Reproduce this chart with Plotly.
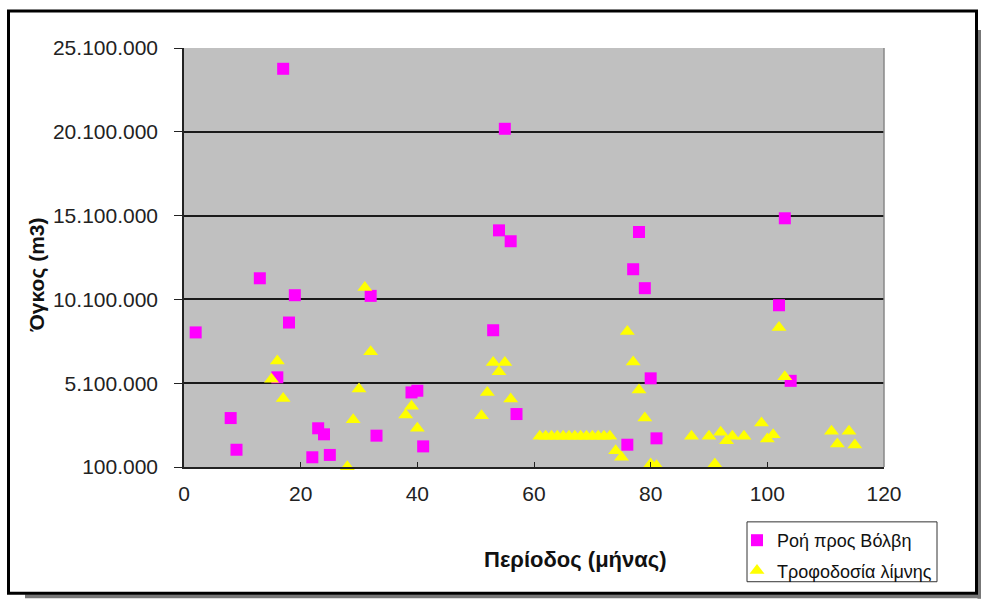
import plotly.graph_objects as go

# Ροή προς Βόλβη (magenta squares)
flow_month = [2, 8, 9, 13, 16, 17, 18, 19, 22, 23, 24, 25, 32, 33, 39, 40, 41,
              53, 54, 55, 56, 57, 76, 77, 78, 79, 80, 81, 102, 103, 104]
flow_volume = [8130000, 3020000, 1130000, 11360000, 5450000, 23860000, 8720000,
               10350000, 680000, 2410000, 2050000, 820000, 10310000, 1970000,
               4550000, 4650000, 1330000, 8260000, 14220000, 20280000, 13570000,
               3260000, 1430000, 11900000, 14120000, 10770000, 5390000, 1810000,
               9750000, 14940000, 5240000]

# Τροφοδοσία λίμνης (yellow triangles)
feed_month = [15, 16, 17, 28, 29, 30, 31, 32, 38, 39, 40, 51, 52, 53, 54, 55, 56,
              61, 62, 63, 64, 65, 66, 67, 68, 69, 70, 71, 72, 73, 74, 75,
              76, 77, 78, 79, 80, 81, 87, 90, 91, 92, 93, 94, 96, 99, 100, 101,
              102, 103, 111, 112, 114, 115]
feed_volume = [5340000, 6430000, 4190000, 120000, 2920000, 4750000, 10810000,
               6970000, 3200000, 3720000, 2410000, 3160000, 4550000, 6340000,
               5780000, 6340000, 4150000,
               1930000, 1930000, 1930000, 1930000, 1930000, 1930000, 1930000,
               1930000, 1930000, 1930000, 1930000, 1930000, 1930000, 1070000,
               680000, 8190000, 6370000, 4690000, 3020000, 280000, 180000,
               1930000, 1930000, 280000, 2170000, 1670000, 1930000, 1930000,
               2720000, 1770000, 2020000, 8430000, 5480000, 2230000, 1470000,
               2230000, 1410000]

series_names = ["Ροή προς Βόλβη", "Τροφοδοσία λίμνης"]
x_title = "Περίοδος (μήνας)"
y_title = "Όγκος (m3)"

FONT = "Arial, Liberation Sans, sans-serif"

fig = go.Figure()
fig.add_trace(go.Scatter(
    x=flow_month, y=flow_volume, mode="markers", name=series_names[0],
    legendgroup="a",
    marker=dict(symbol="square", size=12, color="#FF00FF", line=dict(width=0)),
    cliponaxis=False,
))
fig.add_trace(go.Scatter(
    x=feed_month, y=feed_volume, mode="markers", name=series_names[1],
    legendgroup="b",
    marker=dict(symbol="triangle-up", size=13, color="#FFFF00", line=dict(width=0)),
    cliponaxis=False,
))

L, R, T, B = 184, 884, 48, 468
W, H = 981, 600
pw, ph = R - L, B - T


def px(x):
    return (x - L) / pw


def py(y):
    return (B - y) / ph


fig.update_layout(
    width=W, height=H,
    margin=dict(l=L, r=W - R, t=T, b=H - B),
    paper_bgcolor="white",
    plot_bgcolor="#C0C0C0",
    separators=",.",
    showlegend=True,
    font=dict(family=FONT, color="#222"),
    legend=dict(
        x=px(737), y=py(522), xanchor="left", yanchor="top",
        borderwidth=0, bgcolor="rgba(0,0,0,0)",
        font=dict(family=FONT, size=18, color="#111"),
        itemwidth=30, tracegroupgap=4,
    ),
    xaxis=dict(
        range=[0, 120], dtick=20, tick0=0,
        showgrid=False, zeroline=False,
        showline=True, linecolor="#222", linewidth=1.5,
        ticks="inside", ticklen=5, tickcolor="#222",
        ticklabelstandoff=7,
        tickfont=dict(family=FONT, size=21, color="#222"),
        mirror=False,
    ),
    yaxis=dict(
        range=[100000, 25100000], tick0=100000, dtick=5000000,
        tickformat=",d",
        showgrid=True, gridcolor="#1a1a1a", gridwidth=1.5,
        zeroline=False,
        showline=True, linecolor="#222", linewidth=1.5,
        ticks="outside", ticklen=8, tickcolor="#222",
        ticklabelstandoff=12,
        tickfont=dict(family=FONT, size=21, color="#222"),
    ),
    annotations=[
        dict(text="<b>" + x_title + "</b>", xref="paper", yref="paper",
             x=px(575), y=py(561), xanchor="center", yanchor="middle",
             showarrow=False, font=dict(family=FONT, size=22, color="#111")),
        dict(text="<b>" + y_title + "</b>", xref="paper", yref="paper",
             x=px(37), y=py(276), xanchor="center", yanchor="middle",
             textangle=-90, showarrow=False,
             font=dict(family=FONT, size=21, color="#111")),
    ],
    shapes=[
        # plot area right border
        dict(type="line", xref="paper", yref="paper", x0=1, x1=1, y0=0, y1=1,
             line=dict(color="#888", width=1.5)),
        # legend box
        dict(type="rect", xref="paper", yref="paper",
             x0=px(747), x1=px(937), y0=py(523), y1=py(583),
             line=dict(color="#333", width=1), fillcolor="white", layer="below"),
        # drop shadow
        dict(type="line", xref="paper", yref="paper",
             x0=px(25), x1=px(981), y0=py(597.5), y1=py(597.5),
             line=dict(color="#777", width=4)),
        dict(type="line", xref="paper", yref="paper",
             x0=px(979.5), x1=px(979.5), y0=py(30), y1=py(600),
             line=dict(color="#777", width=4)),
        # outer frame
        dict(type="rect", xref="paper", yref="paper",
             x0=px(8.5), x1=px(976.5), y0=py(11), y1=py(594.5),
             line=dict(color="black", width=3)),
    ],
)

fig.write_html(
    "out.html",
    config={"displayModeBar": False},
    post_script="document.body.style.margin='0';document.body.style.overflow='hidden';",
)
